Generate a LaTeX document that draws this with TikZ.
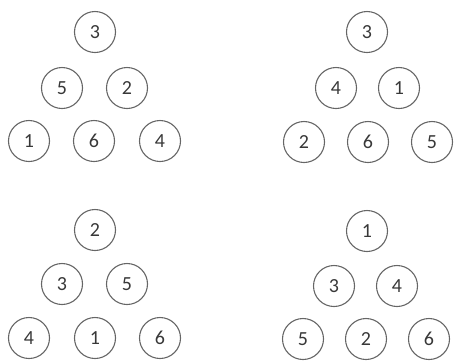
\documentclass[tikz,border=0pt]{standalone}
\usepackage{fontspec}
\setmainfont{Carlito}
\usepackage{tikz}

\tikzset{ball/.style={draw=black!60, line width=1.1pt, circle, minimum size=41pt, inner sep=0pt, text=black!78, font=\fontsize{20}{20}\selectfont}}

\begin{document}
\begin{tikzpicture}[x=1pt, y=-1pt]
\useasboundingbox (0,0) rectangle (454,360);
% top left
\node[ball] (a1) at (95,32) {3};
\node[ball] (a2) at (62,88) {5};
\node[ball] (a3) at (127,88) {2};
\node[ball] (a4) at (29,141) {1};
\node[ball] (a5) at (94,141) {6};
\node[ball] (a6) at (160,141) {4};
% top right
\node[ball] (b1) at (367,32) {3};
\node[ball] (b2) at (336,88) {4};
\node[ball] (b3) at (399,88) {1};
\node[ball] (b4) at (304,142) {2};
\node[ball] (b5) at (368,142) {6};
\node[ball] (b6) at (432,142) {5};
% bottom left
\node[ball] (c1) at (95,230) {2};
\node[ball] (c2) at (62,284) {3};
\node[ball] (c3) at (127,284) {5};
\node[ball] (c4) at (29,338) {4};
\node[ball] (c5) at (95,338) {1};
\node[ball] (c6) at (160,338) {6};
% bottom right
\node[ball] (d1) at (367,231) {1};
\node[ball] (d2) at (334,286) {3};
\node[ball] (d3) at (397,286) {4};
\node[ball] (d4) at (303,339) {5};
\node[ball] (d5) at (366,339) {2};
\node[ball] (d6) at (429,339) {6};
\end{tikzpicture}
\end{document}
